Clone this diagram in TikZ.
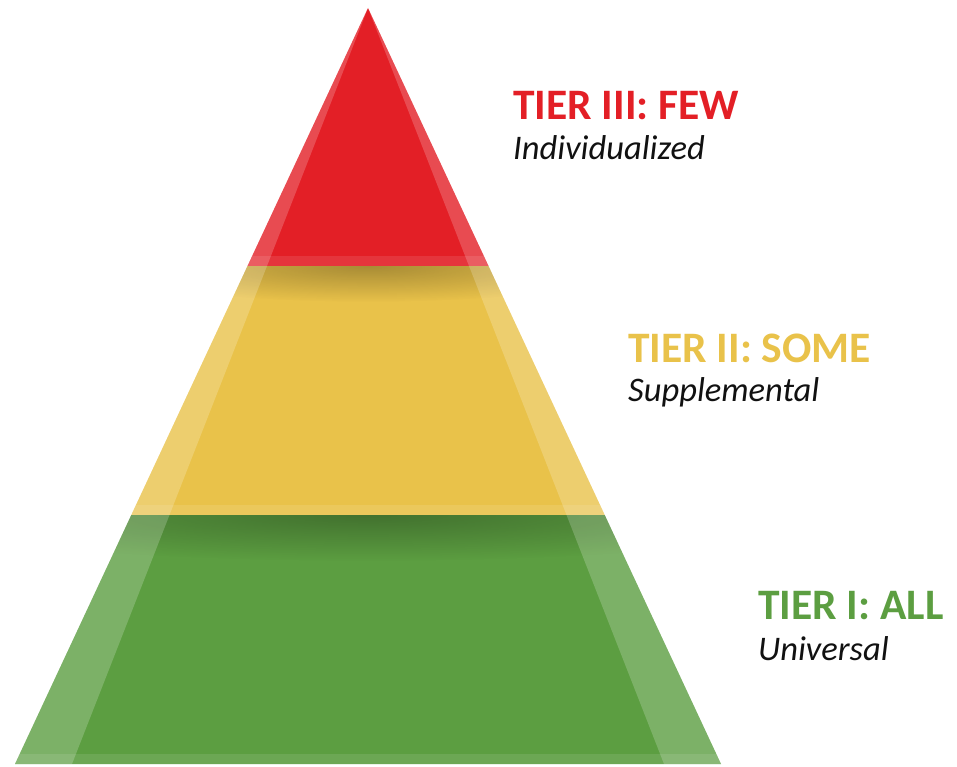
\documentclass[tikz,border=0pt]{standalone}
\usepackage{fontspec}
\setmainfont{Carlito}
\usetikzlibrary{positioning,fadings}

\definecolor{tierRed}{HTML}{E31F26}
\definecolor{tierYellow}{HTML}{E9C24A}
\definecolor{tierGreen}{HTML}{5C9E41}
\definecolor{subText}{HTML}{111111}

\tikzfading[name=shadowfade, inner color=transparent!0, outer color=transparent!100]

\begin{document}
\begin{tikzpicture}[x=1pt, y=-1pt, band/.style = {fill=white, fill opacity=0.2}, strip/.style = {fill=white, fill opacity=0.1}, shadow/.style = {fill=black, fill opacity=0.28, path fading=shadowfade}, title/.style = {anchor=base west, inner sep=0pt, font=\bfseries\fontsize{43.5}{44}\selectfont}, sub/.style = {anchor=base west, inner sep=0pt, text=subText, font=\itshape\fontsize{34.5}{35}\selectfont}]
\useasboundingbox (0,0) rectangle (957,767);

% corners of the three tiers (outer edge, inner edge of the side bands)
\coordinate (apex) at (368,8);
\coordinate (redL) at (247.5,266);
\coordinate (redLi) at (267,266);
\coordinate (redRi) at (469,266);
\coordinate (redR) at (488.5,266);
\coordinate (yelL) at (131.3,515);
\coordinate (yelLi) at (169.5,515);
\coordinate (yelRi) at (566.5,515);
\coordinate (yelR) at (604.7,515);
\coordinate (grnL) at (15,764);
\coordinate (grnLi) at (72,764);
\coordinate (grnRi) at (664,764);
\coordinate (grnR) at (721,764);

% tier III
\fill[tierRed] (apex) -- (redR) -- (redL) -- cycle;
\fill[band] (apex) -- (redLi) -- (redL) -- cycle;
\fill[band] (apex) -- (redR) -- (redRi) -- cycle;
\fill[strip] (252.2,256) -- (483.8,256) -- (redR) -- (redL) -- cycle;

% tier II
\fill[tierYellow] (redL) -- (redR) -- (yelR) -- (yelL) -- cycle;
\begin{scope}
\clip (redL) -- (redR) -- (yelR) -- (yelL) -- cycle;
\fill[shadow] (368,266) ellipse [x radius=260, y radius=36];
\end{scope}
\fill[band] (redL) -- (redLi) -- (yelLi) -- (yelL) -- cycle;
\fill[band] (redRi) -- (redR) -- (yelR) -- (yelRi) -- cycle;
\fill[strip] (136,505) -- (600,505) -- (yelR) -- (yelL) -- cycle;

% tier I
\fill[tierGreen] (yelL) -- (yelR) -- (grnR) -- (grnL) -- cycle;
\begin{scope}
\clip (yelL) -- (yelR) -- (grnR) -- (grnL) -- cycle;
\fill[shadow] (368,515) ellipse [x radius=460, y radius=46];
\end{scope}
\fill[band] (yelL) -- (yelLi) -- (grnLi) -- (grnL) -- cycle;
\fill[band] (yelRi) -- (yelR) -- (grnR) -- (grnRi) -- cycle;
\fill[strip] (19.7,754) -- (716.3,754) -- (grnR) -- (grnL) -- cycle;

% labels
\node[title, text=tierRed] (fewTitle) at (513,120) {TIER III: FEW};
\node[sub] (fewSub) [below=40pt of fewTitle.base west, anchor=base west] {Individualized};
\node[title, text=tierYellow] (someTitle) at (628,362) {TIER II: SOME};
\node[sub] (someSub) [below=39pt of someTitle.base west, anchor=base west] {Supplemental};
\node[title, text=tierGreen] (allTitle) at (758,619) {TIER I: ALL};
\node[sub] (allSub) [below=41pt of allTitle.base west, anchor=base west] {Universal};
\end{tikzpicture}
\end{document}
